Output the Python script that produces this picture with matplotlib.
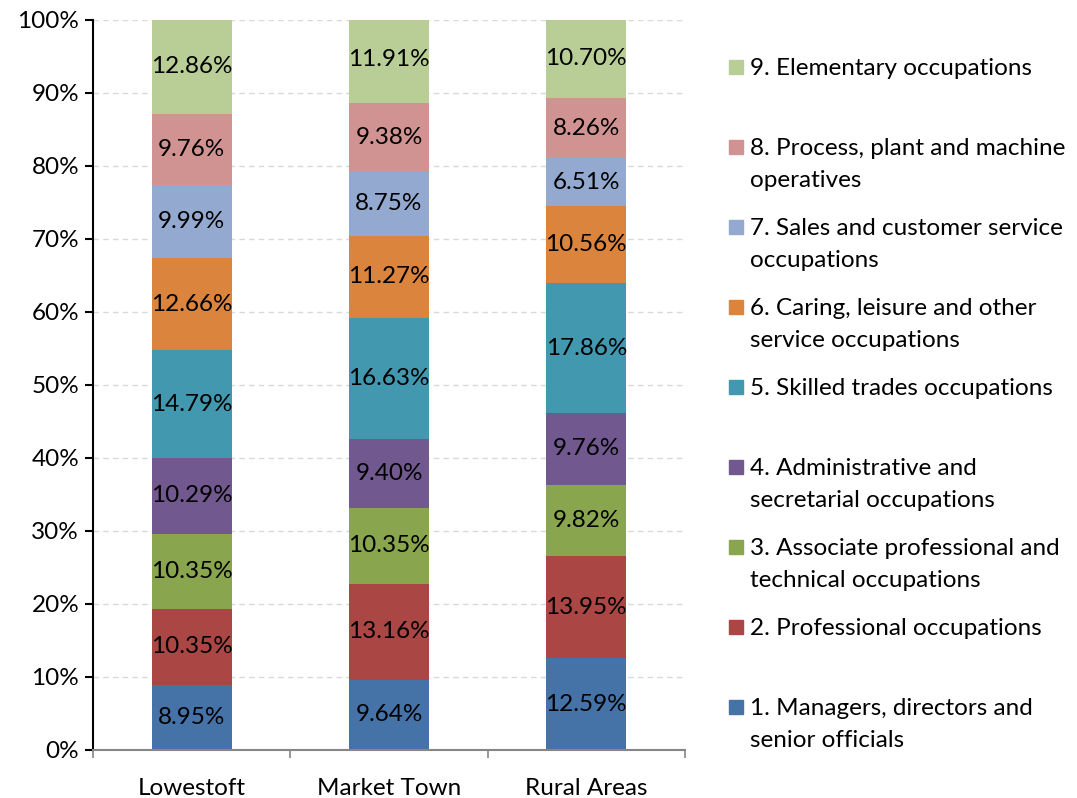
import matplotlib.pyplot as plt
from matplotlib.patches import Rectangle

plt.rcParams['font.family'] = ['Lato', 'DejaVu Sans']

places = ['Lowestoft', 'Market Town', 'Rural Areas']
occupations = [
    '1. Managers, directors and\nsenior officials',
    '2. Professional occupations',
    '3. Associate professional and\ntechnical occupations',
    '4. Administrative and\nsecretarial occupations',
    '5. Skilled trades occupations',
    '6. Caring, leisure and other\nservice occupations',
    '7. Sales and customer service\noccupations',
    '8. Process, plant and machine\noperatives',
    '9. Elementary occupations',
]
# share of each occupation group (%), one list per place
lowestoft = [8.95, 10.35, 10.35, 10.29, 14.79, 12.66, 9.99, 9.76, 12.86]
market_town = [9.64, 13.16, 10.35, 9.40, 16.63, 11.27, 8.75, 9.38, 11.91]
rural_areas = [12.59, 13.95, 9.82, 9.76, 17.86, 10.56, 6.51, 8.26, 10.70]
colors = ['#4572A7', '#AA4643', '#89A54E', '#71588F', '#4198AF',
          '#DB843D', '#93A9CF', '#D19392', '#B9CD96']

series = [lowestoft, market_town, rural_areas]
FS = 17.5

fig = plt.figure(figsize=(10.77, 7.98), dpi=100)
ax = fig.add_axes([0.0864, 0.0602, 0.5496, 0.9148])

x = range(len(places))
bottoms = [0.0] * len(places)
for i in range(len(occupations)):
    vals = [s[i] for s in series]
    ax.bar(x, vals, bottom=bottoms, width=0.405, color=colors[i], zorder=2)
    for j, v in enumerate(vals):
        ax.text(j, bottoms[j] + v / 2, '{:.2f}%'.format(v), ha='center', va='center',
                fontsize=FS, color='black', zorder=3)
    bottoms = [b + v for b, v in zip(bottoms, vals)]

ax.set_xlim(-0.5, 2.5)
ax.set_ylim(0, 100)
ax.set_yticks(range(0, 101, 10))
ax.set_yticklabels(['{}%'.format(t) for t in range(0, 101, 10)], fontsize=FS)
ax.set_xticks(list(x))
ax.set_xticklabels(places, fontsize=FS)
ax.set_xticks([-0.5, 0.5, 1.5, 2.5], minor=True)
ax.tick_params(axis='x', which='major', length=0, pad=20)
ax.tick_params(axis='x', which='minor', length=6, color='#868686', width=1.2)
ax.tick_params(axis='y', length=6, width=1.5, color='black', pad=4)
ax.yaxis.grid(True, color='#d9d9d9', linestyle=(0, (4, 3)), linewidth=1, zorder=0)
ax.set_axisbelow(True)
for side in ['top', 'right']:
    ax.spines[side].set_visible(False)
ax.spines['left'].set_linewidth(1.5)
ax.spines['bottom'].set_color('#868686')
ax.spines['bottom'].set_linewidth(1.5)

# legend, drawn top to bottom from 9 to 1
W, H = 1077, 798
for k, i in enumerate(reversed(range(len(occupations)))):
    y = 67 + 80 * k
    fig.patches.append(Rectangle((729 / W, 1 - (y + 7) / H), 14 / W, 14 / H,
                                 transform=fig.transFigure, color=colors[i]))
    fig.text(750 / W, 1 - (y - 9) / H, occupations[i], fontsize=FS, va='top',
             ha='left', linespacing=1.62)

fig.savefig('out.png', dpi=100)
